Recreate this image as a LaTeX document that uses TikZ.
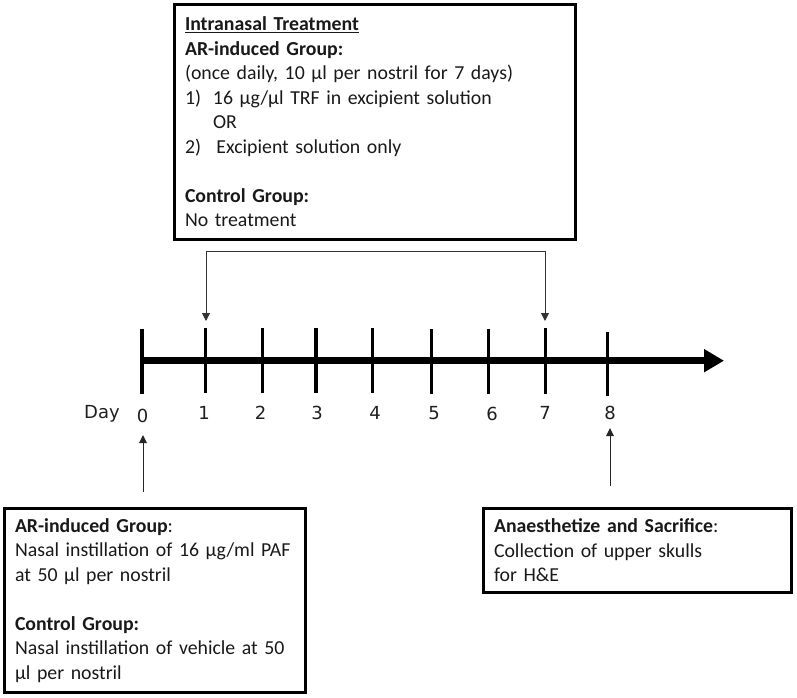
\documentclass[tikz,border=0pt]{standalone}
\usepackage{fontspec}
\setmainfont{Carlito}
\newfontfamily\dayfont{DejaVu Sans}
\usetikzlibrary{arrows.meta}
\begin{document}
\begin{tikzpicture}[x=1pt,y=-1pt,
  box/.style={draw=black, line width=3pt, align=left, inner xsep=10.5pt, inner ysep=0pt,
    font=\fontsize{19.8}{24.5}\selectfont, text=black!90, anchor=center},
  tickmark/.style={draw=black, line width=3.3pt},
  axisline/.style={draw=black, line width=7pt, -{Triangle[length=20pt,width=22pt]}},
  thinarrow/.style={draw=black!80, line width=0.9pt, {Triangle[length=8pt,width=8pt]}-{Triangle[length=8pt,width=8pt]}},
  uparrow/.style={draw=black!85, line width=1pt, -{Triangle[length=8pt,width=7.5pt]}},
  daylabel/.style={font=\dayfont\fontsize{18}{20}\selectfont, text=black!88, inner sep=0pt}]
\useasboundingbox (0,0) rectangle (797,698);

% top box
\node[box, text width=380pt, minimum width=401pt, minimum height=235pt] (top) at (375,122) {%
\textbf{\underline{Intranasal Treatment}}\\
\textbf{AR-induced Group:}\\
(once daily, 10 µl per nostril for 7 days)\\
\makebox[28pt][l]{1)}16 µg/µl TRF in excipient solution\\
\hspace*{28pt}OR\\
\makebox[31.5pt][l]{2)}Excipient solution only\\[24.5pt]
\textbf{Control Group:}\\
No treatment};

% bottom left box
\node[box, text width=280pt, minimum width=301pt, minimum height=184pt] (bl) at (155,600.5) {%
\textbf{AR-induced Group}:\\
Nasal instillation of 16 µg/ml PAF\\
at 50 µl per nostril\\[24.5pt]
\textbf{Control Group:}\\
Nasal instillation of vehicle at 50\\
µl per nostril};

% bottom right box
\node[box, text width=287pt, minimum width=308pt, minimum height=84pt] (br) at (637.5,550.5) {%
\textbf{Anaesthetize and Sacrifice}:\\
Collection of upper skulls\\
for H\&E};

% ticks
\coordinate (t0a) at (142,328.5); \coordinate (t0b) at (142,394);
\coordinate (t1a) at (205.5,328); \coordinate (t1b) at (205.5,393);
\coordinate (t2a) at (262.7,328); \coordinate (t2b) at (262.7,393);
\coordinate (t3a) at (315.9,327.5); \coordinate (t3b) at (315.9,392.5);
\coordinate (t4a) at (372.7,327.5); \coordinate (t4b) at (372.7,392.5);
\coordinate (t5a) at (431.2,329); \coordinate (t5b) at (431.2,394);
\coordinate (t6a) at (488.4,328.5); \coordinate (t6b) at (488.4,393.5);
\coordinate (t7a) at (545.2,328); \coordinate (t7b) at (545.2,393.5);
\coordinate (t8a) at (607.7,331.5); \coordinate (t8b) at (607.7,396);
\foreach \i in {0,...,8} {\draw[tickmark] (t\i a) -- (t\i b);}

% axis
\coordinate (axstart) at (142,360.7);
\coordinate (axend) at (724,360.7);
\draw[axisline] (axstart) -- (axend);

% day labels
\node[daylabel] (dlab) at (102,414) {Day};
\node[daylabel] (d0) at (142.5,415.5) {0};
\node[daylabel] (d1) at (204,413) {1};
\node[daylabel] (d2) at (260.5,413) {2};
\node[daylabel] (d3) at (317,413) {3};
\node[daylabel] (d4) at (375,413) {4};
\node[daylabel] (d5) at (434,413.5) {5};
\node[daylabel] (d6) at (492,413.5) {6};
\node[daylabel] (d7) at (545,412.5) {7};
\node[daylabel] (d8) at (610,412.5) {8};

% bracket from treatment box to days 1 and 7
\coordinate (b1) at (206,251);
\coordinate (b7) at (545,251);
\coordinate (a1) at (206,321);
\coordinate (a7) at (545,321);
\draw[thinarrow] (a1) -- (b1) -- (b7) -- (a7);

% up arrows
\coordinate (u0b) at (143,492);
\coordinate (u0t) at (143,435);
\coordinate (u8b) at (610,486);
\coordinate (u8t) at (610,428);
\draw[uparrow] (u0b) -- (u0t);
\draw[uparrow] (u8b) -- (u8t);
\end{tikzpicture}
\end{document}
